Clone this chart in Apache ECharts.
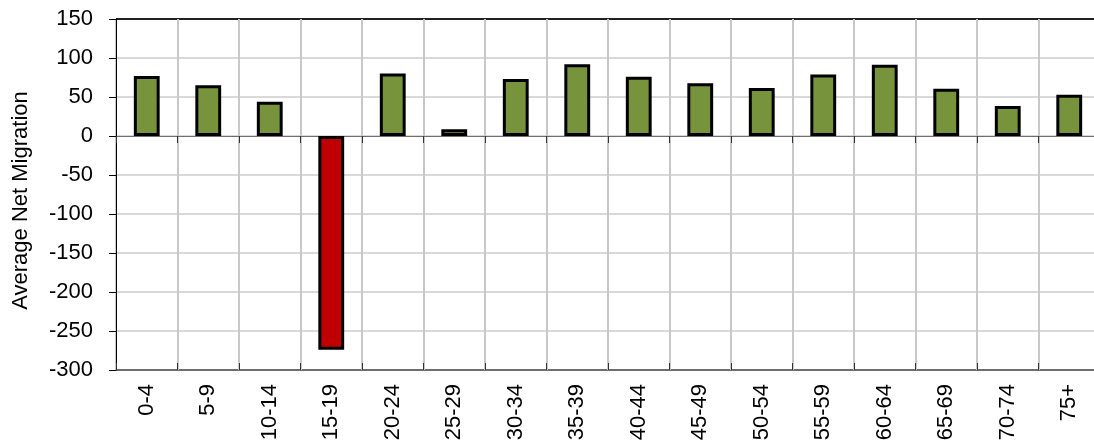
<!DOCTYPE html>
<html>
<head>
<meta charset="utf-8">
<script src="https://cdn.jsdelivr.net/npm/echarts@6/dist/echarts.min.js"></script>
<style>
  html, body { margin: 0; padding: 0; background: #fff; }
  #chart { width: 1094px; height: 446px; }
</style>
</head>
<body>
<div id="chart"></div>
<script>
// age groups and the average net migration for each
const ageGroups = ["0-4", "5-9", "10-14", "15-19", "20-24", "25-29", "30-34", "35-39",
  "40-44", "45-49", "50-54", "55-59", "60-64", "65-69", "70-74", "75+"];
const netMigration = [77, 65, 44, -274, 80, 8.5, 73, 92, 76, 67.5, 61.5, 79, 91.5, 60.5, 38.5, 53];
const yTicks = { min: -300, max: 150, interval: 50 };

const GREEN = "#77933c";
const RED = "#c00000";
const font = "Liberation Sans, Arial, sans-serif";

const myChart = echarts.init(document.getElementById("chart"));
myChart.setOption({
  animation: false,
  grid: { left: 116, right: -6, top: 19, bottom: 76, outerBoundsMode: "none" },
  xAxis: [
    {
      type: "category",
      data: ageGroups,
      axisLine: { onZero: true, lineStyle: { color: "#6e6e6e", width: 1 } },
      axisTick: { show: true, length: 7, lineStyle: { color: "#333" } },
      axisLabel: {
        rotate: 90,
        interval: 0,
        color: "#000",
        fontFamily: font,
        fontSize: 22,
        margin: 14,
      },
      splitLine: { show: true, lineStyle: { color: "#c8c8c8", width: 2 } },
    },
    {
      // second copy only to draw the tick marks above the zero line
      type: "category",
      data: ageGroups,
      position: "bottom",
      axisLine: { show: false, onZero: true },
      axisTick: { show: true, inside: true, length: 7, lineStyle: { color: "#333" } },
      axisLabel: { show: false },
      splitLine: { show: false },
    },
  ],
  yAxis: {
    type: "value",
    min: yTicks.min,
    max: yTicks.max,
    interval: yTicks.interval,
    name: "Average Net Migration",
    nameLocation: "middle",
    nameGap: 84,
    nameTextStyle: { fontFamily: font, fontSize: 22, color: "#000", padding: [0, 12, 0, 0] },
    axisLine: { show: true, lineStyle: { color: "#000", width: 1 } },
    axisTick: { show: true, length: 7, lineStyle: { color: "#000" } },
    axisLabel: { color: "#000", fontFamily: font, fontSize: 22, margin: 23 },
    splitLine: {
      show: true,
      lineStyle: {
        color: ["#6e6e6e", "#d9d9d9", "#d9d9d9", "#d9d9d9", "#d9d9d9",
          "#d9d9d9", "#d9d9d9", "#d9d9d9", "#d9d9d9", "#222"],
        width: 2,
      },
    },
  },
  series: [
    {
      type: "bar",
      data: netMigration.map((v) => ({
        value: v,
        itemStyle: { color: v < 0 ? RED : GREEN },
      })),
      barWidth: "42%",
      itemStyle: { borderColor: "#000", borderWidth: 3 },
    },
  ],
});
</script>
</body>
</html>
